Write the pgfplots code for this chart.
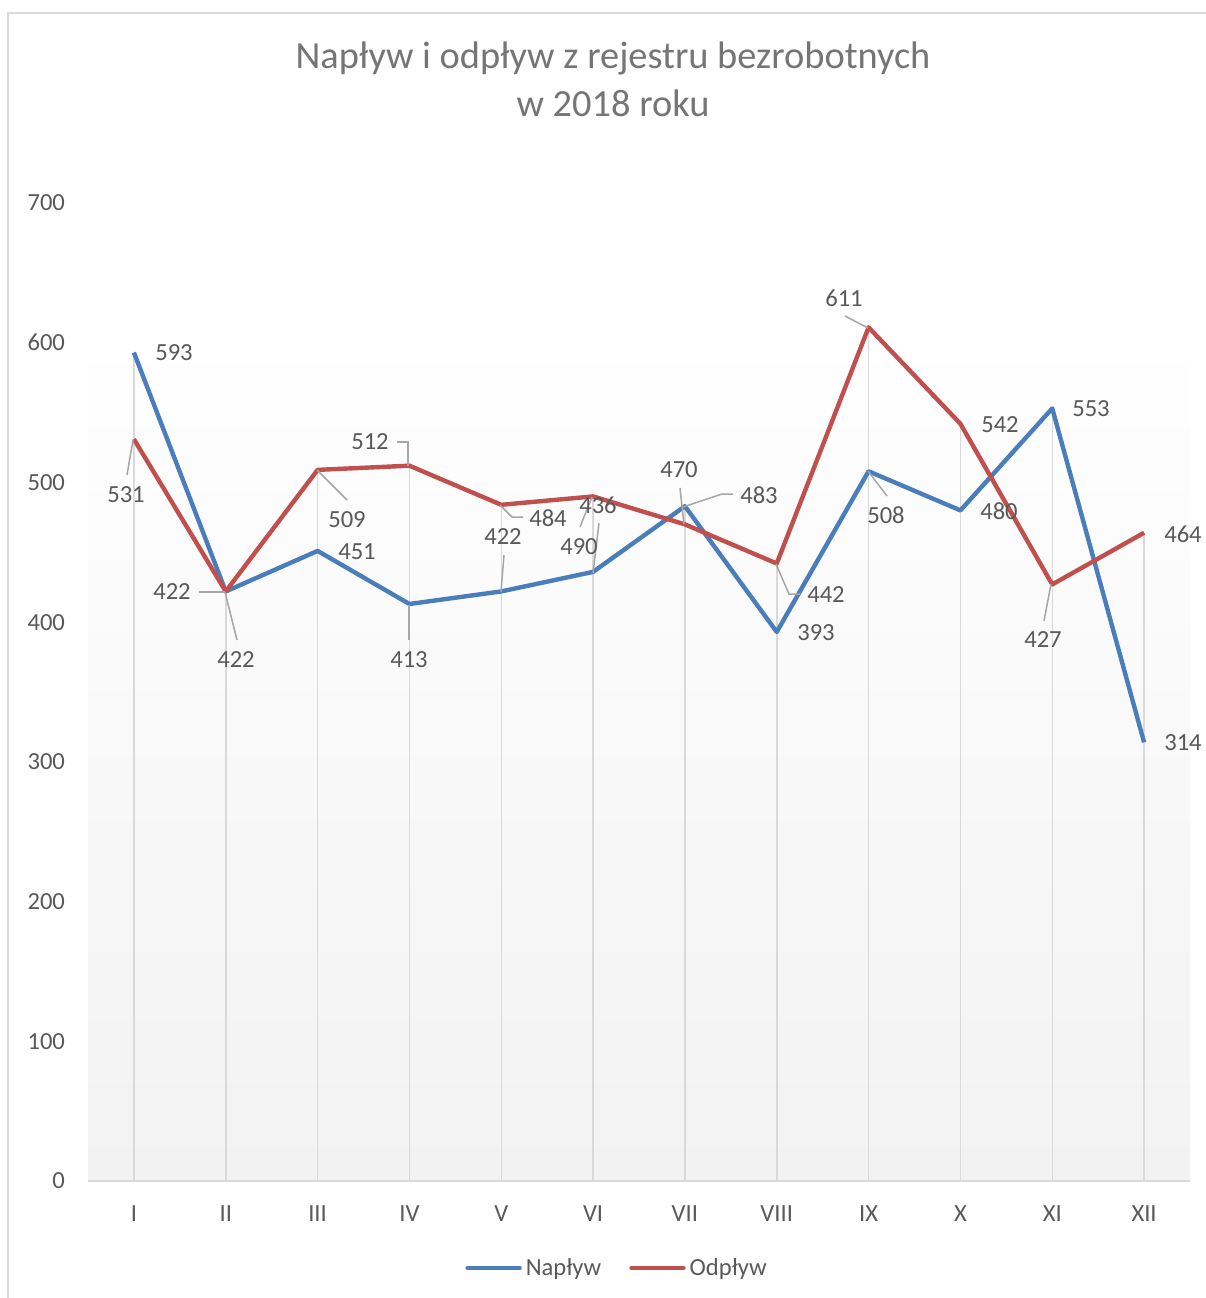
\documentclass[border=0pt]{standalone}
\usepackage{pgfplots}
\pgfplotsset{compat=1.18}
\usepackage{fontspec}
\setmainfont{Carlito}
\definecolor{blu}{RGB}{74,126,187}
\definecolor{rd}{RGB}{192,80,77}
\definecolor{txt}{RGB}{89,89,89}
\definecolor{ttl}{RGB}{117,117,117}
\definecolor{grd}{RGB}{217,217,217}
\definecolor{ldr}{RGB}{166,166,166}
\definecolor{bot}{RGB}{242,242,242}
\begin{document}
\begin{tikzpicture}[x=0.5pt,y=-0.5pt]
\path[use as bounding box] (0,0) rectangle (1206,1298);
\draw[grd, line width=0.75pt] (8,1298) -- (8,13) -- (1206,13);
\fill[top color=white, bottom color=bot] (88,330) rectangle (1190,1181);
\node[ttl, font=\fontsize{19.2}{22}\selectfont] at (613,58) {Napływ i odpływ z rejestru bezrobotnych};
\node[ttl, font=\fontsize{19.2}{22}\selectfont] at (613,103) {w 2018 roku};
\begin{axis}[
  at={(44pt,-590.5pt)}, anchor=south west,
  scale only axis, width=551pt, height=489pt,
  xmin=-0.5, xmax=11.5, ymin=0, ymax=700,
  clip=false,
  axis x line*=bottom, axis y line*=left,
  y axis line style={draw=none},
  x axis line style={grd, line width=0.75pt, -},
  ytick={0,100,...,700},
  xtick={0,...,11},
  xticklabels={I,II,III,IV,V,VI,VII,VIII,IX,X,XI,XII},
  major tick length=0pt,
  tick label style={txt, font=\fontsize{12.3}{14}\selectfont},
  /pgf/number format/assume math mode=true,
  yticklabel style={xshift=-8pt},
  xticklabel style={yshift=-9pt},
  legend style={at={(0.481,-0.089)}, anchor=center, draw=none, fill=none,
    legend columns=2, font=\fontsize{12.3}{14}\selectfont, text=txt,
    /tikz/every even column/.append style={column sep=12pt}},
  legend image code/.code={\draw[#1, line cap=round] (0pt,0pt) -- (26pt,0pt);},
]
\addplot[ycomb, grd, line width=0.75pt, no markers, forget plot] coordinates {
 (0,593) (1,422) (2,509) (3,512) (4,484) (5,490) (6,483) (7,442) (8,611) (9,542) (10,553) (11,464)};
\addplot[blu, line width=2.2pt, line join=round, no markers] coordinates {
 (0,593) (1,422) (2,451) (3,413) (4,422) (5,436) (6,483) (7,393) (8,508) (9,480) (10,553) (11,314)};
\addlegendentry{Napływ}
\addplot[rd, line width=2.2pt, line join=round, no markers] coordinates {
 (0,531) (1,422) (2,509) (3,512) (4,484) (5,490) (6,470) (7,442) (8,611) (9,542) (10,427) (11,464)};
\addlegendentry{Odpływ}
\end{axis}
% leader lines
\begin{scope}[ldr, line width=0.75pt]
\draw (225,592) -- (237,640);
\draw (409,605) -- (409,640);
\draw (501,592) -- (504,555);
\draw (593,573) -- (599,523);
\draw (683,507) -- (722,494) -- (733,494);
\draw (868,471) -- (887,496);
\draw (133,440) -- (127,475);
\draw (199,592) -- (225,592);
\draw (317,470) -- (347,500);
\draw (408,466) -- (408,442) -- (397,442);
\draw (500,505) -- (512,517) -- (523,517);
\draw (592,497) -- (580,527);
\draw (680,488) -- (684,524);
\draw (776,564) -- (789,594) -- (800,594);
\draw (845,316) -- (868,328);
\draw (1051,584) -- (1044,621);
\end{scope}
% data labels
\begin{scope}[every node/.style={txt, font=\fontsize{12.3}{14}\selectfont}]
\node at (174,353) {593};
\node at (236,660) {422};
\node at (357,552) {451};
\node at (409,660) {413};
\node at (503,537) {422};
\node at (598,505) {436};
\node at (759,495) {483};
\node at (816,633) {393};
\node at (886,515) {508};
\node at (999,511) {480};
\node at (1091,409) {553};
\node at (1183,743) {314};
\node at (126,495) {531};
\node at (172,592) {422};
\node at (347,520) {509};
\node at (370,442) {512};
\node at (548,518) {484};
\node at (579,547) {490};
\node at (679,470) {470};
\node at (826,595) {442};
\node at (844,298) {611};
\node at (1000,425) {542};
\node at (1043,640) {427};
\node at (1183,534) {464};
\end{scope}
\end{tikzpicture}
\end{document}
